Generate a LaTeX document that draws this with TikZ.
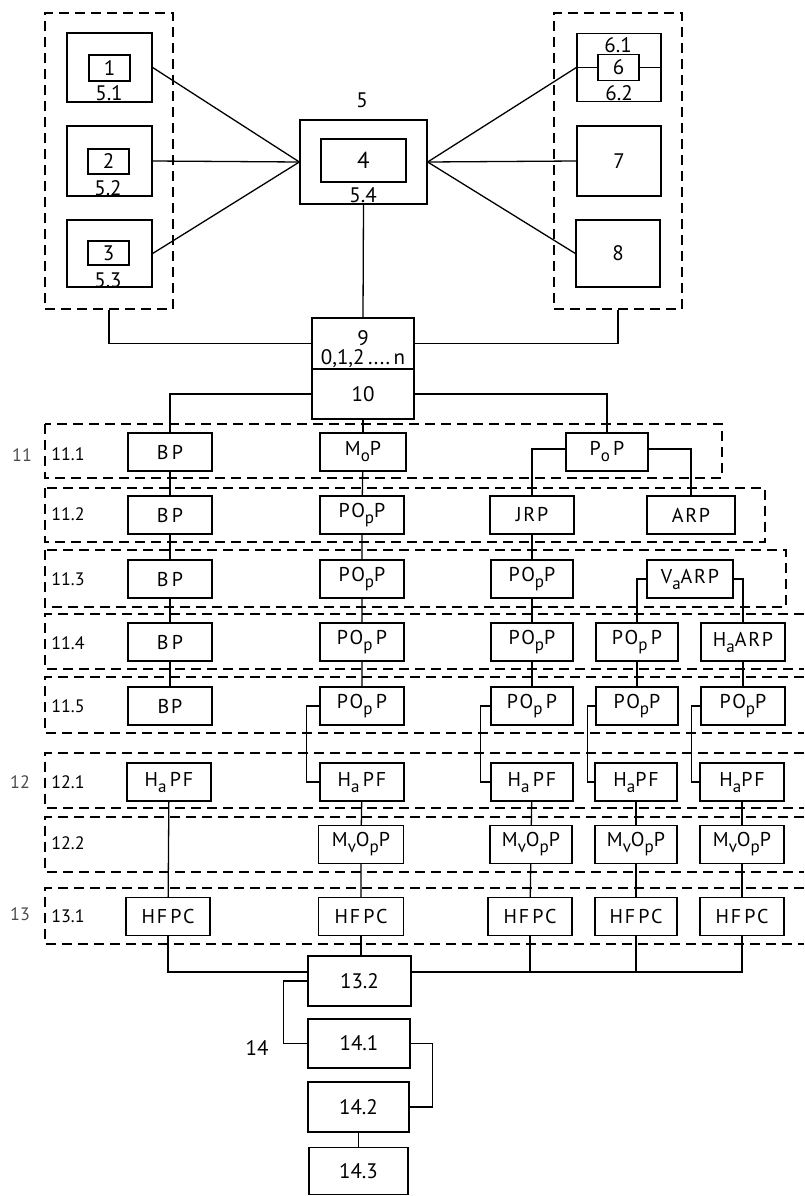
\documentclass[tikz,border=0pt]{standalone}
\usepackage{fontspec}
\setmainfont{PT Sans}
\newcommand\fsz{\fontsize{20}{22}\selectfont\addfontfeature{LetterSpace=9}}
\newcommand\fbig{\fontsize{21}{24}\selectfont}
\newcommand\flab{\fontsize{18}{21}\selectfont}
\newcommand\lowsub[1]{\raisebox{-0.6ex}{\fontsize{17}{17}\selectfont #1}}
\begin{document}
\begin{tikzpicture}[x=1pt,y=-1pt,line width=1.3pt,
  box/.style={draw,inner sep=0pt,font=\fsz,minimum width=84pt,minimum height=38pt},
  big/.style={draw,inner sep=0pt,font=\fbig},
  grp/.style={draw,dash pattern=on 10pt off 6pt,line width=1.1pt},
  lbl/.style={inner sep=0pt,font=\flab},
  nlbl/.style={inner sep=0pt,font=\fbig},
  glbl/.style={inner sep=0pt,font=\flab,text=black!70}]
\useasboundingbox (0,0) rectangle (804,1196);

% ---------- top groups ----------
\node[grp,minimum width=128pt,minimum height=296pt,inner sep=0pt] (gl) at (109,161) {};
\node[grp,minimum width=128pt,minimum height=296pt,inner sep=0pt] (gr) at (618,161) {};

\node[big,minimum width=85pt,minimum height=69pt] (b51) at (109.5,67.5) {};
\node[big,minimum width=41pt,minimum height=26pt] (b1) at (109.5,68) {1};
\node[nlbl] (l51) at (109,93) {5.1};
\node[big,minimum width=85pt,minimum height=70pt] (b52) at (109.5,161) {};
\node[big,minimum width=41pt,minimum height=25pt] (b2) at (108.5,161.5) {2};
\node[nlbl] (l52) at (108,188) {5.2};
\node[big,minimum width=85pt,minimum height=67pt] (b53) at (109.5,253.5) {};
\node[big,minimum width=41pt,minimum height=24pt] (b3) at (108.5,253) {3};
\node[nlbl] (l53) at (108,280) {5.3};

\node[big,minimum width=127pt,minimum height=84pt] (b5) at (363.5,162) {};
\node[big,minimum width=85pt,minimum height=43pt,font=\fontsize{23}{25}\selectfont] (b4) at (363.5,160.5) {4};
\node[nlbl] (l54) at (363,195) {5.4};
\node[nlbl] (l5) at (362,100) {5};

\node[big,minimum width=84pt,minimum height=68pt] (b6o) at (619,67.5) {};
\node[big,minimum width=41pt,minimum height=26pt] (b6) at (618.5,67.5) {6};
\node[nlbl] (l61) at (618,45) {6.1};
\node[nlbl] (l62) at (619,93) {6.2};
\node[big,minimum width=84pt,minimum height=70pt] (b7) at (619,161) {7};
\node[big,minimum width=84pt,minimum height=67pt] (b8) at (618,253.5) {8};

\draw (b6o.west) -- (b6.west);
\draw (b6.east) -- (b6o.east);
\draw (b51.east) -- (b5.west);
\draw (b52.east) -- (b5.west);
\draw (b53.east) -- (b5.west);
\draw (b5.east) -- (b6o.west);
\draw (b5.east) -- (b7.west);
\draw (b5.east) -- (b8.west);

% ---------- 9 / 10 ----------
\node[draw,inner sep=0pt,minimum width=102pt,minimum height=51pt] (b9) at (363,343.5) {};
\node[nlbl] (l9) at (363,338) {9};
\node[nlbl] (l9n) at (363,359) {0,1,2\,....\,n};
\node[big,minimum width=102pt,minimum height=50pt] (b10) at (363,394) {10};
\draw (gl.south) |- (b9.west);
\draw (gr.south) |- (b9.east);
\draw (b5.south) -- (b9.north);

% ---------- dashed rows ----------
\draw[grp] (45,424) rectangle (722,478);
\draw[grp] (45,488) rectangle (765,542);
\draw[grp] (45,550) rectangle (786,607);
\draw[grp] (804,614) -- (45,614) -- (45,669) -- (804,669);
\draw[grp] (804,677) -- (45,677) -- (45,733) -- (804,733);
\draw[grp] (804,753) -- (45,753) -- (45,808) -- (804,808);
\draw[grp] (804,817) -- (45,817) -- (45,872) -- (804,872);
\draw[grp] (804,888) -- (45,888) -- (45,944) -- (804,944);

\node[glbl] (g11) at (22,455) {11};
\node[glbl] (g12) at (20,782) {12};
\node[glbl] (g13) at (20,914) {13};
\node[lbl] (r1) at (68,454) {11.1};
\node[lbl] (r2) at (68,514) {11.2};
\node[lbl] (r3) at (68,579) {11.3};
\node[lbl] (r4) at (68,643) {11.4};
\node[lbl] (r5) at (68,706) {11.5};
\node[lbl] (r6) at (68,782) {12.1};
\node[lbl] (r7) at (68,843) {12.2};
\node[lbl] (r8) at (68,916) {13.1};

% ---------- column A ----------
\node[box] (a1) at (170,452) {B\,P};
\node[box] (a2) at (170,515) {B\,P};
\node[box] (a3) at (170,579) {B\,P};
\node[box] (a4) at (170,642) {B\,P};
\node[box] (a5) at (170,706) {BP};
\node[box] (a6) at (169,782) {H\lowsub{a}\,PF};
\node[box] (a8) at (168,916.5) {HF\,PC};
\draw (a1) -- (a2) -- (a3) -- (a4) -- (a5);
\draw (a6) -- (a8);

% ---------- column B ----------
\node[box,minimum width=86pt] (m1) at (363,452) {M\lowsub{o}P};
\node[box] (m2) at (362,515) {PO\lowsub{p}P};
\node[box] (m3) at (362,579) {PO\lowsub{p}P};
\node[box] (m4) at (362,642) {PO\lowsub{p}\,P};
\node[box] (m5) at (362,706) {PO\lowsub{p}\,P};
\node[box] (m6) at (362,782) {H\lowsub{a}\,PF};
\node[box,minimum width=85pt] (m7) at (361,844.5) {M\lowsub{v}O\lowsub{p}P};
\node[box,minimum width=85pt] (m8) at (361,916.5) {HF\,PC};
\draw (b10.south) -- (b10.south |- m1.north);
\draw (m1) -- (m2) -- (m3) -- (m4) -- (m5);
\draw (m5.west) -- ++(-13,0) |- (m6.west);
\draw (m6) -- (m7) -- (m8);

% ---------- P0P branch ----------
\node[box,minimum width=82pt] (p0) at (607,452) {P\lowsub{o}\,P};
\node[box] (jrp) at (532,515) {JRP};
\node[box,minimum width=88pt] (arp) at (691,515) {ARP};
\draw (b10.west) -| (a1.north);
\draw (b10.east) -| (p0.north);
\draw ([yshift=3pt]p0.west) -| (jrp.north);
\draw ([yshift=3pt]p0.east) -| (arp.north);

% ---------- column C ----------
\node[box,minimum width=82pt] (c3) at (532,579) {PO\lowsub{p}P};
\node[box,minimum width=82pt] (c4) at (532,642) {PO\lowsub{p}P};
\node[box,minimum width=82pt] (c5) at (532,706) {PO\lowsub{p}\,P};
\node[box,minimum width=82pt] (c6) at (532,782) {H\lowsub{a}\,PF};
\node[box,minimum width=82pt] (c7) at (531,844.5) {M\lowsub{v}O\lowsub{p}P};
\node[box,minimum width=84pt] (c8) at (530,916.5) {HF\,PC};
\draw (jrp) -- (c3) -- (c4) -- (c5);
\draw (c5.west) -- ++(-10,0) |- (c6.west);
\draw (c6) -- (c7) -- (c8);

% ---------- V_a ARP branch ----------
\node[box,minimum width=86pt] (va) at (690,579) {V\lowsub{a}ARP};
\node[box,minimum width=82pt] (d4) at (637,642) {PO\lowsub{p}\,P};
\node[box,minimum width=82pt] (d5) at (637,706) {PO\lowsub{p}P};
\node[box,minimum width=82pt] (d6) at (636,782) {H\lowsub{a}PF};
\node[box,minimum width=82pt] (d7) at (636,844.5) {M\lowsub{v}O\lowsub{p}P};
\node[box,minimum width=82pt] (d8) at (636,916.5) {HF\,PC};
\node[box] (e4) at (743,642) {H\lowsub{a}ARP};
\node[box] (e5) at (743,706) {PO\lowsub{p}P};
\node[box] (e6) at (742,782) {H\lowsub{a}PF};
\node[box] (e7) at (742,844.5) {M\lowsub{v}O\lowsub{p}P};
\node[box] (e8) at (742,916.5) {HF\,PC};
\draw (va.west) -| (d4.north);
\draw (va.east) -| (e4.north);
\draw (d4) -- (d5);
\draw (d5.west) -- ++(-8,0) |- (d6.west);
\draw (d6) -- (d7) -- (d8);
\draw (e4) -- (e5);
\draw (e5.west) -- ++(-9,0) |- (e6.west);
\draw (e6) -- (e7) -- (e8);

% ---------- 13.2 and 14 ----------
\node[big,minimum width=103pt,minimum height=50pt] (n132) at (359.5,981) {13.2};
\node[big,minimum width=102pt,minimum height=49pt] (n141) at (359,1043.5) {14.1};
\node[big,minimum width=101pt,minimum height=50pt] (n142) at (358.5,1107) {14.2};
\node[big,minimum width=99pt,minimum height=47pt] (n143) at (358.5,1171) {14.3};
\node[nlbl] (l14) at (257,1048) {14};
\coordinate (busl) at ([yshift=9pt]n132.west);
\coordinate (busr) at ([yshift=9pt]n132.east);
\draw (a8.south) |- (busl);
\draw (m8.south) -- (m8.south |- n132.north);
\draw (busr) -| (e8.south);
\draw (c8.south) -- (c8.south |- busr);
\draw (d8.south) -- (d8.south |- busr);
\draw (n132.west) -- ++(-24,0) |- (n141.west);
\draw (n141.east) -- ++(22,0) |- (n142.east);
\draw (n142.south) -- (n142.south |- n143.north);
\end{tikzpicture}
\end{document}
